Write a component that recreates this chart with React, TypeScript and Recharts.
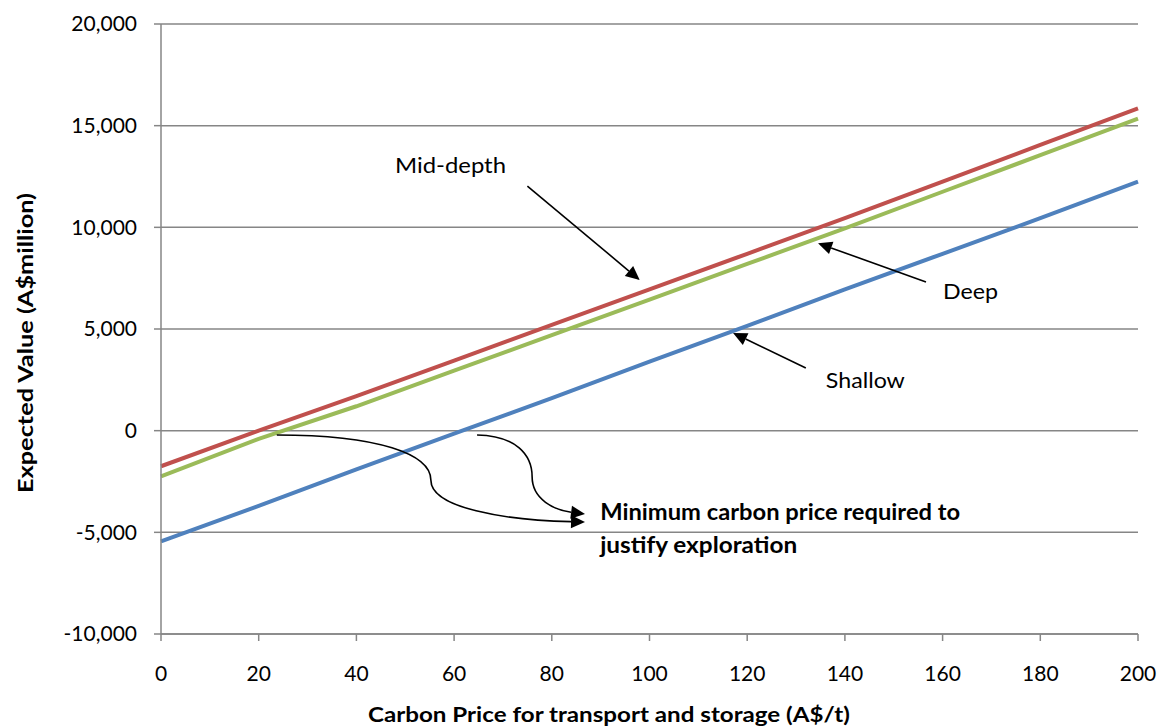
import React from "react";
import {
  LineChart,
  Line,
  XAxis,
  YAxis,
  CartesianGrid,
  ReferenceLine,
  ReferenceDot,
} from "recharts";

// values (A$ million)
const carbonPrice = [0, 20, 40, 60, 80, 100, 120, 140, 160, 180, 200];
const midDepth = [-1750, 0, 1700, 3450, 5200, 6950, 8700, 10450, 12250, 14050, 15850];
const deep = [-2250, -400, 1200, 2950, 4700, 6450, 8200, 9950, 11750, 13550, 15350];
const shallow = [-5450, -3700, -1900, -150, 1600, 3400, 5150, 6950, 8700, 10450, 12250];
const yTicks = [-10000, -5000, 0, 5000, 10000, 15000, 20000];

const RED = "#c0504d";
const GREEN = "#9bbb59";
const BLUE = "#4f81bd";
const GRID = "#868686";
const FONT = "Lato, 'Open Sans', sans-serif";

const data = carbonPrice.map((p, i) => ({
  price: p,
  midDepth: midDepth[i],
  deep: deep[i],
  shallow: shallow[i],
}));

// annotation anchors in data space: [x, y]
const midDepthArrow = [[75, 12030], [98, 7410]];
const deepArrow = [[156.6, 7310], [134.5, 9220]];
const shallowArrow = [[132, 3085], [117.1, 4805]];
const curveA = [[23.7, -210], [86.8, -4490]];
const curveB = [[64.7, -210], [86.8, -4100]];

function headPoints(x2: number, y2: number, fx: number, fy: number, len = 14, half = 6.5) {
  const a = Math.atan2(y2 - fy, x2 - fx);
  const bx = x2 - len * Math.cos(a);
  const by = y2 - len * Math.sin(a);
  const px = -Math.sin(a) * half;
  const py = Math.cos(a) * half;
  return {
    pts: `${x2},${y2} ${bx + px},${by + py} ${bx - px},${by - py}`,
    bx,
    by,
  };
}

function straightArrow(props: any) {
  const { x1, y1, x2, y2 } = props;
  const h = headPoints(x2, y2, x1, y1);
  return (
    <g>
      <line x1={x1} y1={y1} x2={h.bx} y2={h.by} stroke="#000" strokeWidth={1.6} />
      <polygon points={h.pts} fill="#000" />
    </g>
  );
}

// S-shaped connector, control points as fractions of the segment box
function curvedArrow(ctrl: number[][]) {
  return (props: any) => {
    const { x1, y1, x2, y2 } = props;
    const dx = x2 - x1;
    const dy = y2 - y1;
    const p = ctrl.map(([fx, fy]) => [x1 + fx * dx, y1 + fy * dy]);
    const last = p[p.length - 1];
    const h = headPoints(x2, y2, last[0], last[1]);
    const d = `M${x1},${y1} C${p[0][0]},${p[0][1]} ${p[1][0]},${p[1][1]} ${p[2][0]},${p[2][1]} C${p[3][0]},${p[3][1]} ${p[4][0]},${p[4][1]} ${h.bx},${h.by}`;
    return (
      <g>
        <path d={d} fill="none" stroke="#000" strokeWidth={1.6} />
        <polygon points={h.pts} fill="#000" />
      </g>
    );
  };
}

// the source picture is stretched sideways, so texts get a fixed length
function note(text: string, len: number, bold = false) {
  return (props: any) => (
    <text
      x={props.cx}
      y={props.cy}
      dominantBaseline="central"
      fontFamily={FONT}
      fontSize={22}
      fontWeight={bold ? 700 : 400}
      textLength={len}
      lengthAdjust="spacingAndGlyphs"
      fill="#000"
    >
      {text}
    </text>
  );
}

function XTitle(props: any) {
  const { x, y } = props.viewBox;
  return (
    <text
      x={x + 448}
      y={y + 88}
      textAnchor="middle"
      fontFamily={FONT}
      fontSize={21}
      fontWeight={700}
      textLength={482}
      lengthAdjust="spacingAndGlyphs"
      fill="#000"
    >
      Carbon Price for transport and storage  (A$/t)
    </text>
  );
}

function YTitle(props: any) {
  const { y } = props.viewBox;
  const cx = 24;
  const cy = y + 319;
  return (
    <text
      x={cx}
      y={cy}
      transform={`rotate(-90, ${cx}, ${cy})`}
      textAnchor="middle"
      dominantBaseline="central"
      fontFamily={FONT}
      fontSize={21}
      fontWeight={700}
      textLength={300}
      lengthAdjust="spacingAndGlyphs"
      fill="#000"
    >
      Expected Value (A$million)
    </text>
  );
}

export default function App() {
  const tick = { fontFamily: FONT, fontSize: 21, fill: "#000" };
  return (
    <div style={{ position: "absolute", left: 0, top: 0, background: "#fff" }}>
      <LineChart width={1160} height={728} data={data} margin={{ top: 24, right: 22, bottom: 0, left: 0 }}>
        <CartesianGrid vertical={false} stroke={GRID} strokeWidth={1.5} />
        <XAxis
          dataKey="price"
          type="number"
          domain={[0, 200]}
          ticks={carbonPrice}
          height={94}
          tick={tick}
          tickSize={7}
          tickMargin={25}
          axisLine={{ stroke: GRID, strokeWidth: 1.5 }}
          tickLine={{ stroke: GRID, strokeWidth: 1.5 }}
          label={{ content: XTitle }}
        />
        <YAxis
          type="number"
          domain={[-10000, 20000]}
          ticks={yTicks}
          width={161}
          tick={tick}
          tickSize={7}
          tickMargin={17}
          tickFormatter={(v) => v.toLocaleString("en-US")}
          axisLine={{ stroke: GRID, strokeWidth: 1.5 }}
          tickLine={{ stroke: GRID, strokeWidth: 1.5 }}
          label={{ content: YTitle }}
        />
        <Line type="linear" dataKey="shallow" stroke={BLUE} strokeWidth={4} dot={false} isAnimationActive={false} />
        <Line type="linear" dataKey="deep" stroke={GREEN} strokeWidth={4} dot={false} isAnimationActive={false} />
        <Line type="linear" dataKey="midDepth" stroke={RED} strokeWidth={4} dot={false} isAnimationActive={false} />

        <ReferenceLine segment={midDepthArrow.map(([x, y]) => ({ x, y }))} shape={straightArrow} />
        <ReferenceLine segment={deepArrow.map(([x, y]) => ({ x, y }))} shape={straightArrow} />
        <ReferenceLine segment={shallowArrow.map(([x, y]) => ({ x, y }))} shape={straightArrow} />
        <ReferenceLine
          segment={curveA.map(([x, y]) => ({ x, y }))}
          shape={curvedArrow([[0.33, 0], [0.5, 0.22], [0.5, 0.52], [0.5, 0.84], [0.74, 0.98]])}
        />
        <ReferenceLine
          segment={curveB.map(([x, y]) => ({ x, y }))}
          shape={curvedArrow([[0.36, 0.01], [0.51, 0.25], [0.51, 0.53], [0.51, 0.82], [0.72, 0.95]])}
        />

        <ReferenceDot x={47.9} y={13080} r={0} shape={note("Mid-depth", 111)} />
        <ReferenceDot x={160.1} y={6870} r={0} shape={note("Deep", 55)} />
        <ReferenceDot x={136.1} y={2540} r={0} shape={note("Shallow", 79)} />
        <ReferenceDot x={89.9} y={-3970} r={0} shape={note("Minimum carbon price required to", 360, true)} />
        <ReferenceDot x={89.9} y={-5600} r={0} shape={note("justify  exploration", 197, true)} />
      </LineChart>
    </div>
  );
}
